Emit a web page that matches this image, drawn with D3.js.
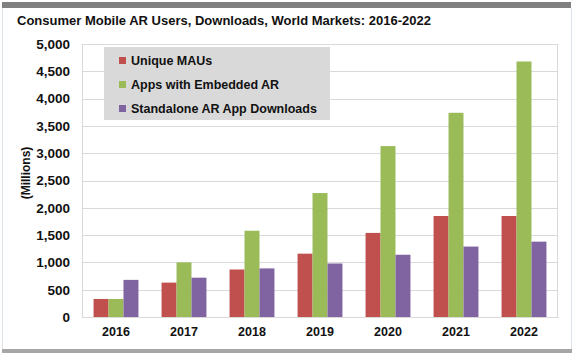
<!DOCTYPE html>
<html>
<head>
<meta charset="utf-8">
<script src="https://cdn.jsdelivr.net/npm/d3@7"></script>
<style>
  body { margin: 0; background: #fff; }
  svg { display: block; font-family: "Liberation Sans", Arial, sans-serif; }
</style>
</head>
<body>
<div id="chart"></div>
<script>
// chart values
const years = ["2016", "2017", "2018", "2019", "2020", "2021", "2022"];
const seriesNames = ["Unique MAUs", "Apps with Embedded AR", "Standalone AR App Downloads"];
const uniqueMAUs = [330, 630, 870, 1160, 1540, 1850, 1850];
const embeddedAR = [330, 1000, 1580, 2270, 3130, 3740, 4680];
const standaloneDownloads = [680, 720, 890, 980, 1140, 1290, 1380];
const yTicks = [0, 500, 1000, 1500, 2000, 2500, 3000, 3500, 4000, 4500, 5000];
const colors = ["#C0504D", "#9BBB59", "#8064A2"];

const seriesValues = [uniqueMAUs, embeddedAR, standaloneDownloads];
const data = years.map((y, i) => ({
    year: y,
    values: seriesNames.map((s, j) => ({ key: s, value: seriesValues[j][i] }))
}));

const width = 574, height = 353;
const margin = { top: 44, right: 16, bottom: 36, left: 82 };
const innerW = width - margin.left - margin.right;
const innerH = height - margin.top - margin.bottom;

const svg = d3.select("#chart").append("svg")
    .attr("width", width)
    .attr("height", height);

// frame: dark top bar, light side lines, gray bottom bar
svg.append("rect").attr("x", 2).attr("y", 2).attr("width", 569).attr("height", 6).attr("fill", "#808080");
svg.append("line").attr("x1", 2.5).attr("x2", 2.5).attr("y1", 8).attr("y2", 349).attr("stroke", "#dde3ea");
svg.append("line").attr("x1", 571.5).attr("x2", 571.5).attr("y1", 8).attr("y2", 349).attr("stroke", "#dde3ea");
svg.append("rect").attr("x", 2).attr("y", 349).attr("width", 570).attr("height", 4).attr("fill", "#a6a6a6");

svg.append("text")
    .attr("x", 17)
    .attr("y", 25)
    .style("font-size", "13px")
    .style("font-weight", "bold")
    .style("fill", "#111")
    .text("Consumer Mobile AR Users, Downloads, World Markets: 2016-2022");

const g = svg.append("g")
    .attr("transform", `translate(${margin.left},${margin.top})`);

const x0 = d3.scaleBand()
    .domain(years)
    .range([0, innerW])
    .paddingInner(0.34)
    .paddingOuter(0.17);

const x1 = d3.scaleBand()
    .domain(seriesNames)
    .range([0, x0.bandwidth()]);

const y = d3.scaleLinear()
    .domain([0, 5000])
    .range([innerH, 0]);

const color = d3.scaleOrdinal().domain(seriesNames).range(colors);

// gridlines
g.append("g")
    .selectAll("line")
    .data(yTicks)
    .join("line")
    .attr("x1", 0)
    .attr("x2", innerW)
    .attr("y1", d => Math.round(y(d)) + 0.5)
    .attr("y2", d => Math.round(y(d)) + 0.5)
    .attr("stroke", "#d9d9d9");

// plot frame
g.append("line").attr("x1", 0.5).attr("x2", 0.5).attr("y1", 0).attr("y2", innerH).attr("stroke", "#d9d9d9");
g.append("line").attr("x1", innerW - 0.5).attr("x2", innerW - 0.5).attr("y1", 0).attr("y2", innerH).attr("stroke", "#d9d9d9");

// y axis
const yAxis = d3.axisLeft(y)
    .tickValues(yTicks)
    .tickFormat(d3.format(","))
    .tickSize(0)
    .tickPadding(12);

g.append("g")
    .attr("class", "y-axis")
    .call(yAxis)
    .call(a => a.select(".domain").remove())
    .selectAll("text")
    .style("font-size", "13.5px")
    .style("font-weight", "bold")
    .style("font-family", "Liberation Sans, Arial, sans-serif")
    .style("fill", "#111");

// x axis
const xAxis = d3.axisBottom(x0).tickSize(0).tickPadding(10);
g.append("g")
    .attr("class", "x-axis")
    .attr("transform", `translate(0,${innerH})`)
    .call(xAxis)
    .call(a => a.select(".domain").attr("stroke", "#d9d9d9"))
    .selectAll("text")
    .style("font-size", "12.5px")
    .style("font-weight", "bold")
    .style("font-family", "Liberation Sans, Arial, sans-serif")
    .style("fill", "#111");

// bars
const groups = g.append("g")
    .selectAll("g")
    .data(data)
    .join("g")
    .attr("transform", d => `translate(${x0(d.year)},0)`);

groups.selectAll("rect")
    .data(d => d.values)
    .join("rect")
    .attr("x", d => x1(d.key))
    .attr("width", x1.bandwidth())
    .attr("y", d => y(d.value))
    .attr("height", d => innerH - y(d.value))
    .attr("fill", d => color(d.key));

// y axis title
svg.append("text")
    .attr("transform", "rotate(-90)")
    .attr("x", -173)
    .attr("y", 30)
    .style("text-anchor", "middle")
    .style("font-size", "12px")
    .style("font-weight", "bold")
    .style("fill", "#111")
    .text("(Millions)");

// legend
const legend = svg.append("g").attr("transform", "translate(104,47)");
legend.append("rect")
    .attr("width", 226)
    .attr("height", 73)
    .attr("fill", "#d9d9d9");

const legendItem = legend.selectAll(".legend-item")
    .data(seriesNames)
    .join("g")
    .attr("class", "legend-item")
    .attr("transform", (d, i) => `translate(15,${13.5 + i * 24})`);

legendItem.append("rect")
    .attr("y", -3.5)
    .attr("width", 7)
    .attr("height", 7)
    .attr("fill", d => color(d));

legendItem.append("text")
    .attr("x", 12)
    .attr("y", 4.5)
    .style("font-size", "12.5px")
    .style("font-weight", "bold")
    .style("fill", "#111")
    .text(d => d);
</script>
</body>
</html>
